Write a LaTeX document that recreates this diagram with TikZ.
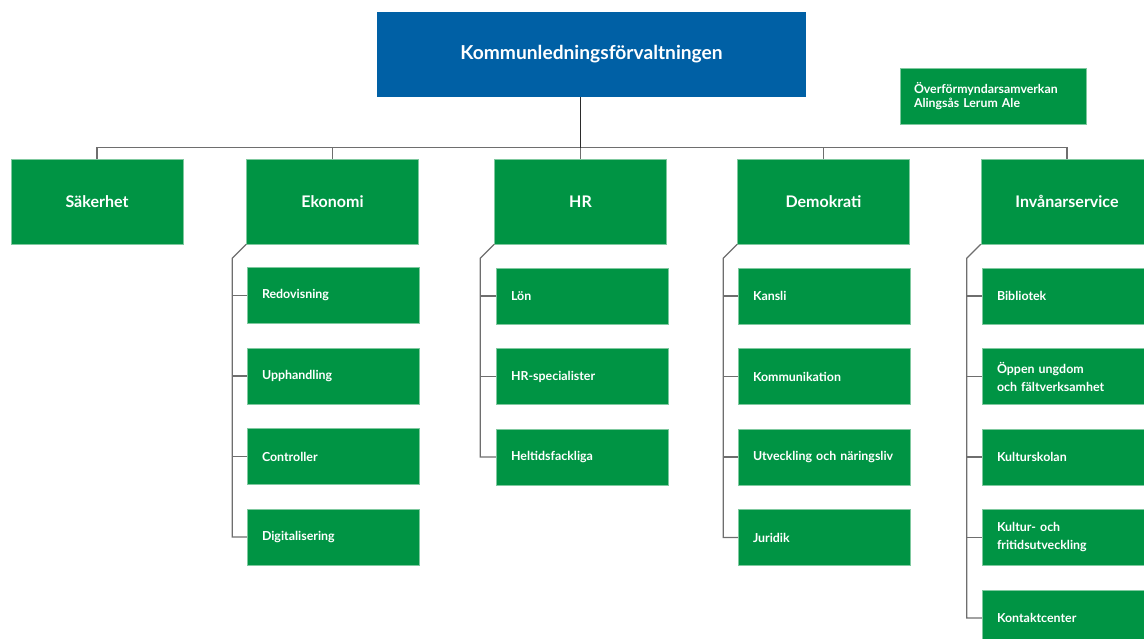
\documentclass[tikz,border=0pt]{standalone}
\usepackage{fontspec}
\setmainfont{Lato}
\usepackage{xcolor}
\usetikzlibrary{positioning,calc}
\definecolor{klfBlue}{HTML}{0060A5}
\definecolor{klfGreen}{HTML}{009444}
\definecolor{klfEdge}{HTML}{7FC99F}
\definecolor{klfLine}{HTML}{6E6E6E}
\definecolor{klfDark}{HTML}{2B2B2B}

\begin{document}
\begin{tikzpicture}[
    x=1pt, y=-1pt,
    font=\bfseries,
    head/.style={fill=klfBlue, text=white, minimum width=429pt, minimum height=85pt, inner sep=0pt, font=\bfseries\fontsize{19.2}{22}\selectfont},
    unit/.style={fill=klfGreen, draw=klfEdge, line width=0.4pt, text=white, minimum width=172pt, minimum height=85pt, inner sep=0pt, font=\bfseries\fontsize{16}{19}\selectfont},
    sub/.style={fill=klfGreen, draw=klfEdge, line width=0.4pt, text=white, minimum height=56pt, text width=142pt, inner xsep=15pt, inner ysep=0pt, align=left, font=\bfseries\fontsize{12.4}{18}\selectfont},
    link/.style={draw=klfLine, line width=1.2pt},
    toplink/.style={draw=klfDark, line width=1.2pt}
]
\useasboundingbox (0,0) rectangle (1144,639);

\node[head] (klf) at (591.5,54.5) {Kommunledningsförvaltningen};
\node[sub, text width=158pt, inner xsep=14pt, font=\bfseries\fontsize{12.3}{14}\selectfont] (ovf) at (993,96) {Överförmyndarsamverkan\\Alingsås Lerum Ale};

\node[unit] (sak) at (97,201.5) {Säkerhet};
\node[unit] (eko) at (332.5,201.5) {Ekonomi};
\node[unit] (hr) at (580.5,201.5) {HR};
\node[unit] (demo) at (823.5,201.5) {Demokrati};
\node[unit] (inv) at (1067,201.5) {Invånarservice};

% Ekonomi
\node[sub] (eko1) at (333,295.5) {Redovisning};
\node[sub] (eko2) at (333,376) {Upphandling};
\node[sub] (eko3) at (333,456.5) {Controller};
\node[sub] (eko4) at (333,537) {Digitalisering};

% HR
\node[sub] (hr1) at (582,296) {Lön};
\node[sub] (hr2) at (582,376.5) {HR-specialister};
\node[sub] (hr3) at (582,457) {Heltidsfackliga};

% Demokrati
\node[sub] (demo1) at (824,296) {Kansli};
\node[sub] (demo2) at (824,376.5) {Kommunikation};
\node[sub] (demo3) at (824,457) {Utveckling och näringsliv};
\node[sub] (demo4) at (824,537.5) {Juridik};

% Invanarservice
\node[sub] (inv1) at (1068,296) {Bibliotek};
\node[sub] (inv2) at (1068,376.5) {Öppen ungdom\\och fältverksamhet};
\node[sub] (inv3) at (1068,457) {Kulturskolan};
\node[sub] (inv4) at (1068,537.5) {Kultur- och\\fritidsutveckling};
\node[sub] (inv5) at (1068,618) {Kontaktcenter};

% top level
\draw[link] (sak.north) -- ++(0,-11) coordinate (bus) -| (inv.north);
\draw[toplink] (klf.south -| hr.north) -- (hr.north |- bus);
\draw[link] (hr.north |- bus) -- (hr.north);
\draw[link] (eko.north |- bus) -- (eko.north);
\draw[link] (demo.north |- bus) -- (demo.north);

% Ekonomi branch
\draw[link] (eko.south west) -- ++(-14,14) coordinate (ekoS) |- (eko4.west);
\draw[link] (eko1.west) -- (eko1.west -| ekoS);
\draw[link] (eko2.west) -- (eko2.west -| ekoS);
\draw[link] (eko3.west) -- (eko3.west -| ekoS);

% HR branch
\draw[link] (hr.south west) -- ++(-14,14) coordinate (hrS) |- (hr3.west);
\draw[link] (hr1.west) -- (hr1.west -| hrS);
\draw[link] (hr2.west) -- (hr2.west -| hrS);

% Demokrati branch
\draw[link] (demo.south west) -- ++(-14,14) coordinate (demoS) |- (demo4.west);
\draw[link] (demo1.west) -- (demo1.west -| demoS);
\draw[link] (demo2.west) -- (demo2.west -| demoS);
\draw[link] (demo3.west) -- (demo3.west -| demoS);

% Invanarservice branch
\draw[link] (inv.south west) -- ++(-14,14) coordinate (invS) |- (inv5.west);
\draw[link] (inv1.west) -- (inv1.west -| invS);
\draw[link] (inv2.west) -- (inv2.west -| invS);
\draw[link] (inv3.west) -- (inv3.west -| invS);
\draw[link] (inv4.west) -- (inv4.west -| invS);

\end{tikzpicture}
\end{document}
